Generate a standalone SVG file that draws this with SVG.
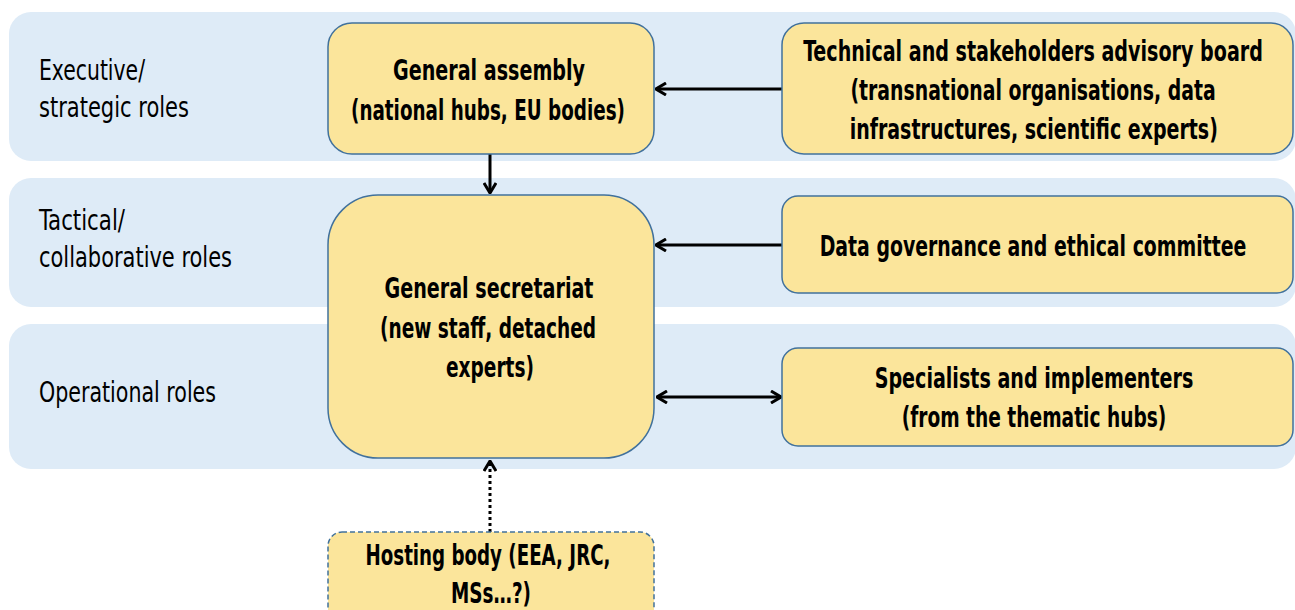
<svg xmlns="http://www.w3.org/2000/svg" width="1295" height="610" viewBox="0 0 1295 610">
<defs>
<style>
.band{fill:#DEEBF7;}
.box{fill:#FBE59B;stroke:#41719C;stroke-width:1.5;}
.dash{stroke-dasharray:5,3;}
.lbl{font-family:"DejaVu Sans Condensed","DejaVu Sans",sans-serif;font-size:28px;fill:#000;}
.t{font-family:"DejaVu Sans Condensed","DejaVu Sans",sans-serif;font-size:29px;font-weight:bold;fill:#000;text-anchor:middle;}
.c{stroke:#000;stroke-width:3;fill:none;}
</style>
<marker id="ah" viewBox="0 0 12 14" refX="11" refY="7" markerWidth="12" markerHeight="14" markerUnits="userSpaceOnUse" orient="auto-start-reverse">
<path d="M1,1 L11,7 L1,13" fill="none" stroke="#000" stroke-width="3"/>
</marker>
</defs>
<g id="bands">
<rect class="band" x="9" y="12" width="1287" height="149" rx="22"/>
<rect class="band" x="9" y="178" width="1287" height="129" rx="22"/>
<rect class="band" x="9" y="324" width="1287" height="145" rx="22"/>
</g>
<g id="labels">
<text class="lbl" x="39" y="80" textLength="106" lengthAdjust="spacingAndGlyphs">Executive/</text>
<text class="lbl" x="39" y="117" textLength="150" lengthAdjust="spacingAndGlyphs">strategic roles</text>
<text class="lbl" x="39" y="230" textLength="86" lengthAdjust="spacingAndGlyphs">Tactical/</text>
<text class="lbl" x="39" y="267" textLength="193" lengthAdjust="spacingAndGlyphs">collaborative roles</text>
<text class="lbl" x="39" y="402" textLength="177" lengthAdjust="spacingAndGlyphs">Operational roles</text>
</g>
<g id="connectors">
<line class="c" x1="490" y1="154" x2="490" y2="193" marker-end="url(#ah)"/>
<line class="c" x1="782" y1="89" x2="656" y2="89" marker-end="url(#ah)"/>
<line class="c" x1="782" y1="245" x2="656" y2="245" marker-end="url(#ah)"/>
<line class="c" x1="657" y1="397" x2="781" y2="397" marker-start="url(#ah)" marker-end="url(#ah)"/>
<line class="c" x1="490" y1="532" x2="490" y2="461" stroke-dasharray="3,3" marker-end="url(#ah)"/>
</g>
<g id="general-assembly">
<rect class="box" x="328" y="23" width="326" height="131" rx="24"/>
<text class="t" x="489" y="80" textLength="192" lengthAdjust="spacingAndGlyphs">General assembly</text>
<text class="t" x="488" y="120" textLength="274" lengthAdjust="spacingAndGlyphs">(national hubs, EU bodies)</text>
</g>
<g id="general-secretariat">
<rect class="box" x="328" y="195" width="326" height="263" rx="50"/>
<text class="t" x="489" y="298" textLength="209" lengthAdjust="spacingAndGlyphs">General secretariat</text>
<text class="t" x="488" y="338" textLength="216" lengthAdjust="spacingAndGlyphs">(new staff, detached</text>
<text class="t" x="490" y="377" textLength="88" lengthAdjust="spacingAndGlyphs">experts)</text>
</g>
<g id="advisory-board">
<rect class="box" x="782" y="23" width="511" height="131" rx="22"/>
<g transform="translate(1033,0) scale(0.75,1)">
<text class="t" x="0" y="61" textLength="613" lengthAdjust="spacingAndGlyphs">Technical and stakeholders advisory board</text>
<text class="t" x="0" y="100" textLength="487" lengthAdjust="spacingAndGlyphs">(transnational organisations, data</text>
<text class="t" x="1" y="139" textLength="491" lengthAdjust="spacingAndGlyphs">infrastructures, scientific experts)</text>
</g>
</g>
<g id="data-governance">
<rect class="box" x="782" y="196" width="511" height="97" rx="16"/>
<g transform="translate(1033,0) scale(0.75,1)">
<text class="t" x="0" y="256" textLength="569" lengthAdjust="spacingAndGlyphs">Data governance and ethical committee</text>
</g>
</g>
<g id="specialists">
<rect class="box" x="782" y="348" width="511" height="98" rx="16"/>
<g transform="translate(1034,0) scale(0.75,1)">
<text class="t" x="0" y="388" textLength="425" lengthAdjust="spacingAndGlyphs">Specialists and implementers</text>
<text class="t" x="0" y="427" textLength="353" lengthAdjust="spacingAndGlyphs">(from the thematic hubs)</text>
</g>
</g>
<g id="hosting-body">
<rect class="box dash" x="328" y="532" width="326" height="100" rx="14"/>
<text class="t" x="488" y="565" textLength="245" lengthAdjust="spacingAndGlyphs">Hosting body (EEA, JRC,</text>
<text class="t" x="491" y="603" textLength="80" lengthAdjust="spacingAndGlyphs">MSs…?)</text>
</g>
</svg>
